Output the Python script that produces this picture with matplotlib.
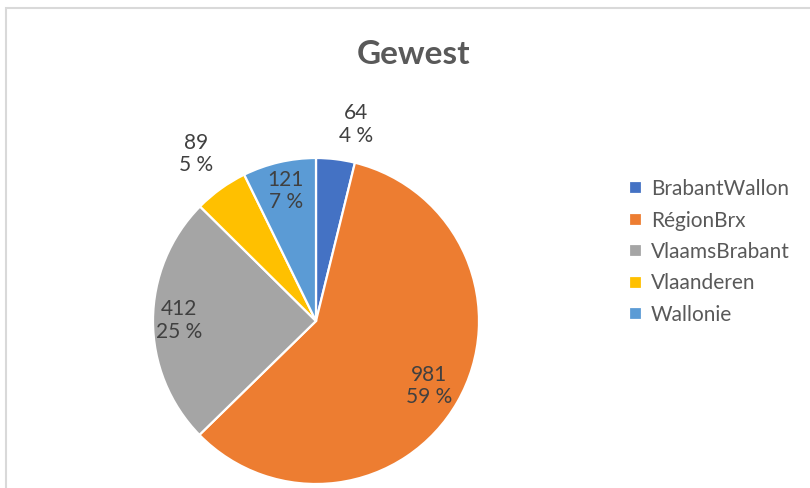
import numpy as np
import matplotlib as mpl
mpl.use("Agg")
import matplotlib.pyplot as plt
from matplotlib.patches import Rectangle

# data
regions = ["BrabantWallon", "RégionBrx", "VlaamsBrabant", "Vlaanderen", "Wallonie"]
counts = [64, 981, 412, 89, 121]
colors = ["#4472C4", "#ED7D31", "#A5A5A5", "#FFC000", "#5B9BD5"]
# label placement: fraction of radius (outside > 1) and small angle nudge (deg)
label_r = [1.23, 0.80, 0.84, 1.26, 0.82]
label_nudge = [-4.5, 0, 0, 0, 0]

plt.rcParams["font.family"] = ["Lato", "DejaVu Sans"]

fig = plt.figure(figsize=(8.1, 4.88), dpi=100)

# light grey chart frame (runs off the right and bottom edges)
fig.patches.append(Rectangle((6 / 810, -0.1), 1.2, 1 - 8 / 488 + 0.1,
                             transform=fig.transFigure, fill=False,
                             edgecolor="#D9D9D9", lw=1.5))

# pie centred at about (316, 321) px with radius 163 px
cx, cy, R = 316, 321, 163
ax = fig.add_axes([(cx - R) / 810, (488 - cy - R) / 488, 2 * R / 810, 2 * R / 488])
wedges, _ = ax.pie(counts, colors=colors, startangle=90, counterclock=False,
                   radius=1, wedgeprops=dict(edgecolor="white", linewidth=1.6))
ax.set_xlim(-1, 1)
ax.set_ylim(-1, 1)
ax.set_aspect("equal")
ax.axis("off")

total = sum(counts)
for w, c, r, nd in zip(wedges, counts, label_r, label_nudge):
    mid = np.deg2rad((w.theta1 + w.theta2) / 2 + nd)
    pct = round(100 * c / total)
    ax.text(r * np.cos(mid), r * np.sin(mid), "%d\n%d %%" % (c, pct),
            ha="center", va="center", fontsize=15, color="#404040",
            linespacing=1.15, clip_on=False)

fig.text(414 / 810, 1 - 55 / 488, "Gewest", ha="center", va="center",
         fontsize=24, fontweight="bold", color="#595959")

leg = fig.legend(wedges, regions, loc="center left",
                 bbox_to_anchor=(629 / 810, 1 - 252 / 488), frameon=False,
                 fontsize=15, handlelength=0.6, handleheight=0.6,
                 handletextpad=0.45, labelspacing=0.55, borderpad=0,
                 borderaxespad=0)
for t in leg.get_texts():
    t.set_color("#595959")

fig.savefig("out.png", dpi=100)
